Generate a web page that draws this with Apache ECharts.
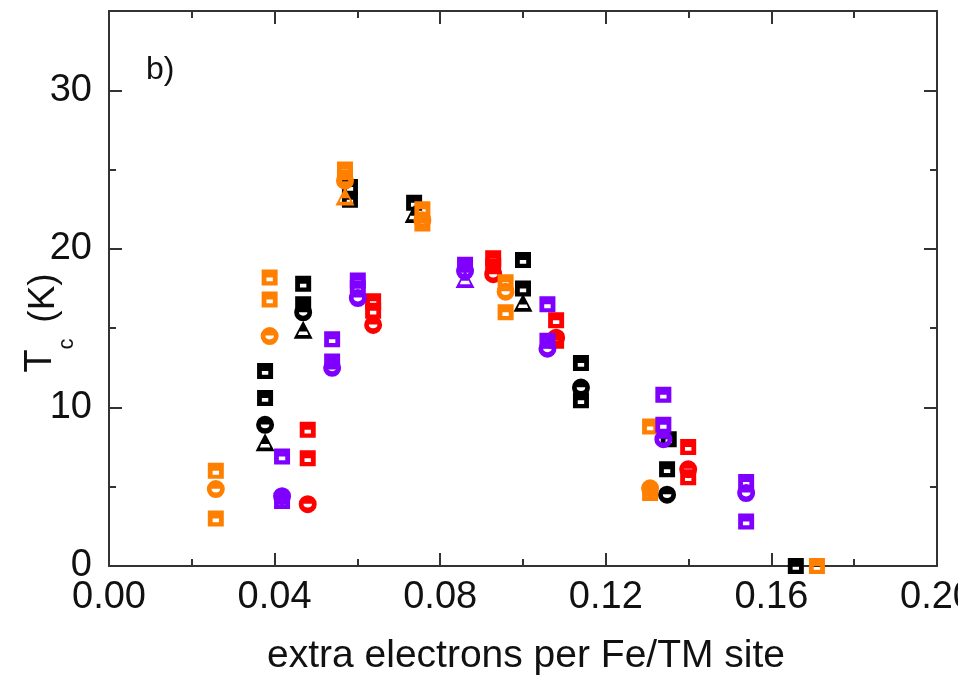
<!DOCTYPE html>
<html>
<head>
<meta charset="utf-8">
<script src="https://cdn.jsdelivr.net/npm/echarts@6/dist/echarts.min.js"></script>
<style>
  html, body { margin: 0; padding: 0; background: #fff; }
  #chart { width: 958px; height: 676px; }
</style>
</head>
<body>
<div id="chart"></div>
<script>
// Tc versus extra electrons per Fe/TM site, [x, Tc(K)] pairs grouped by colour and marker shape
const orangeSquares = [
  [0.0258, 6.0], [0.0258, 3.0],
  [0.0388, 18.2], [0.0388, 16.8],
  [0.0570, 25.0], [0.0570, 24.5],
  [0.0757, 22.5], [0.0757, 21.6],
  [0.0958, 17.9], [0.0958, 16.0],
  [0.1307, 8.8], [0.1307, 4.6],
  [0.1710, 0.0]
];
const orangeCircles = [
  [0.0258, 4.85], [0.0388, 14.5], [0.0570, 24.3], [0.0757, 21.8], [0.0958, 17.3], [0.1307, 4.9]
];
const orangeTriangles = [
  [0.0570, 23.3]
];

const blackSquares = [
  [0.0377, 12.3], [0.0377, 10.6],
  [0.0469, 17.8], [0.0469, 16.5],
  [0.0582, 23.9], [0.0582, 23.1],
  [0.0737, 22.9],
  [0.1000, 19.3], [0.1000, 17.5],
  [0.1140, 12.8], [0.1140, 10.45],
  [0.1352, 8.0], [0.1348, 6.1],
  [0.1659, 0.0]
];
const blackCircles = [
  [0.0377, 8.9], [0.0469, 16.0], [0.1140, 11.25], [0.1348, 4.5]
];
const blackTriangles = [
  [0.0377, 7.8], [0.0469, 14.9], [0.0737, 22.2], [0.1000, 16.6]
];

const redSquares = [
  [0.0480, 8.6], [0.0480, 6.8],
  [0.0638, 16.7], [0.0638, 16.1],
  [0.0928, 19.4], [0.0928, 18.9],
  [0.1080, 15.5], [0.1080, 14.2],
  [0.1399, 7.5], [0.1399, 5.6]
];
const redCircles = [
  [0.0480, 3.9], [0.0638, 15.2], [0.0928, 18.4], [0.1080, 14.4], [0.1399, 6.1]
];

const purpleSquares = [
  [0.0418, 6.9], [0.0418, 4.1],
  [0.0539, 14.3], [0.0539, 12.9],
  [0.0601, 18.0], [0.0601, 17.5],
  [0.0860, 19.0],
  [0.1059, 16.5], [0.1059, 14.2],
  [0.1339, 10.8], [0.1339, 8.9],
  [0.1539, 5.3], [0.1539, 2.8]
];
const purpleCircles = [
  [0.0418, 4.4], [0.0539, 12.5], [0.0601, 16.9], [0.0860, 18.6], [0.1059, 13.7], [0.1339, 8.0], [0.1539, 4.6]
];
const purpleTriangles = [
  [0.0860, 18.1]
];

const xTickLabels = ['0.00', '0.04', '0.08', '0.12', '0.16', '0.20'];
const yTickLabels = ['0', '10', '20', '30'];

// half-filled markers: solid upper part, small open bar in the lower part
const SQUARE = 'path://M0 0 L14 0 L14 14 L0 14 Z M4.2 7 L4.2 10.3 L9.8 10.3 L9.8 7 Z';
const CIRCLE = 'path://M0 8 A8 8 0 1 1 16 8 A8 8 0 1 1 0 8 Z M11.8 7.6 L4.2 7.6 Q4.2 11 8 11 Q11.8 11 11.8 7.6 Z';
const TRIANGLE = 'path://M8 0 L16 15 L0 15 Z M4.8 9 L3.6 11.8 L12.4 11.8 L11.2 9 Z';

const ORANGE = '#ff8000';
const BLACK = '#000000';
const RED = '#ff0000';
const PURPLE = '#7f00ff';

function marks(data, symbol, size, color) {
  return {
    type: 'scatter',
    data: data,
    symbol: symbol,
    symbolSize: size,
    itemStyle: { color: color, opacity: 1 },
    emphasis: { disabled: true },
    silent: true,
    xAxisIndex: 0,
    yAxisIndex: 0
  };
}

const FONT = 'Liberation Sans, Arial, sans-serif';
const AXIS_COLOR = '#333333';
const lineStyle = { color: AXIS_COLOR, width: 2 };

function xAx(position, showLabels) {
  return {
    type: 'value', position: position, min: 0, max: 0.2, interval: 0.04,
    axisLine: { show: true, onZero: false, lineStyle: lineStyle },
    axisTick: { show: true, inside: true, length: 13, lineStyle: lineStyle },
    minorTick: { show: true, splitNumber: 2, length: 7, lineStyle: lineStyle },
    splitLine: { show: false },
    axisLabel: {
      show: showLabels, margin: 13, fontSize: 38, fontFamily: FONT, color: '#111',
      formatter: function (v) { return xTickLabels[Math.round(v / 0.04)]; }
    }
  };
}

function yAx(position, interval, tickLen, showLine, showLabels) {
  return {
    type: 'value', position: position, min: 0, max: 35, interval: interval,
    axisLine: { show: showLine, onZero: false, lineStyle: lineStyle },
    axisTick: { show: true, inside: true, length: tickLen, lineStyle: lineStyle },
    splitLine: { show: false },
    axisLabel: {
      show: showLabels, margin: 17, fontSize: 38, fontFamily: FONT, color: '#111',
      showMaxLabel: false,
      formatter: function (v) {
        const i = Math.round(v / 10);
        return (v % 10 === 0 && i < yTickLabels.length) ? yTickLabels[i] : '';
      }
    }
  };
}

const chart = echarts.init(document.getElementById('chart'), null, { renderer: 'canvas' });
chart.setOption({
  animation: false,
  backgroundColor: '#ffffff',
  grid: { left: 109, right: 21, top: 11, bottom: 110, containLabel: false, outerBoundsMode: 'none' },
  xAxis: [xAx('bottom', true), xAx('top', false)],
  yAxis: [
    yAx('left', 10, 13, true, true),
    yAx('left', 5, 7, false, false),
    yAx('right', 10, 13, true, false),
    yAx('right', 5, 7, false, false)
  ],
  series: [
    marks(redSquares, SQUARE, [16, 16], RED),
    marks(redCircles, CIRCLE, [18, 18], RED),
    marks(blackSquares, SQUARE, [16, 16], BLACK),
    marks(blackCircles, CIRCLE, [18, 18], BLACK),
    marks(blackTriangles, TRIANGLE, [19, 18], BLACK),
    marks(orangeSquares, SQUARE, [16, 16], ORANGE),
    marks(orangeCircles, CIRCLE, [18, 18], ORANGE),
    marks(orangeTriangles, TRIANGLE, [19, 18], ORANGE),
    marks(purpleSquares, SQUARE, [16, 16], PURPLE),
    marks(purpleCircles, CIRCLE, [18, 18], PURPLE),
    marks(purpleTriangles, TRIANGLE, [19, 18], PURPLE)
  ],
  graphic: [
    {
      type: 'text', x: 146, y: 70,
      style: { text: 'b)', fontSize: 32, fontFamily: FONT, fill: '#111', align: 'left', verticalAlign: 'middle' }
    },
    {
      type: 'text', x: 526, y: 656,
      style: { text: 'extra electrons per Fe/TM site', fontSize: 39, fontFamily: FONT, fill: '#111', align: 'center', verticalAlign: 'middle' }
    },
    {
      type: 'text', x: 41, y: 361, rotation: Math.PI / 2,
      style: { text: 'T', fontSize: 38, fontFamily: FONT, fill: '#111', align: 'center', verticalAlign: 'middle' }
    },
    {
      type: 'text', x: 67, y: 344, rotation: Math.PI / 2,
      style: { text: 'c', fontSize: 22, fontFamily: FONT, fill: '#111', align: 'center', verticalAlign: 'middle' }
    },
    {
      type: 'text', x: 44, y: 298, rotation: Math.PI / 2,
      style: { text: '(K)', fontSize: 37, fontFamily: FONT, fill: '#111', align: 'center', verticalAlign: 'middle' }
    }
  ]
});
</script>
</body>
</html>
